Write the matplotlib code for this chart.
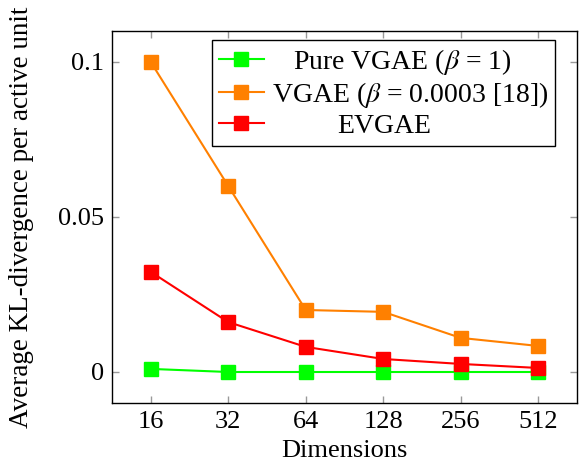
import matplotlib
matplotlib.use("Agg")
import matplotlib.pyplot as plt

dims = ["16", "32", "64", "128", "256", "512"]
pure_vgae = [0.0010, 0.0, 0.0, 0.0, 0.0, 0.0]
vgae_beta = [0.1000, 0.0600, 0.0200, 0.0194, 0.0110, 0.0084]
evgae = [0.0323, 0.0161, 0.0081, 0.0042, 0.0026, 0.0013]
yticks = [0, 0.05, 0.1]
yticklabels = ["0", "0.05", "0.1"]

plt.rcParams['font.family'] = ['Liberation Serif', 'DejaVu Serif']
plt.rcParams['mathtext.fontset'] = 'stix'
plt.rcParams['font.size'] = 19

fig = plt.figure(figsize=(5.8, 4.73), dpi=100)
ax = fig.add_axes([112/580, 1-403/473, (577-112)/580, (403-31)/473])

x = list(range(len(dims)))
kw = dict(marker='s', markersize=9.5, linewidth=1.5)
ax.plot(x, pure_vgae, color='#00ff00', label=r'Pure VGAE ($\beta$ = 1)', **kw)
ax.plot(x, vgae_beta, color='#ff8000', label=r'VGAE ($\beta$ = 0.0003 [18])', **kw)
ax.plot(x, evgae, color='#ff0000', label='EVGAE', **kw)

ax.set_xlim(-0.5, 5.5)
ax.set_ylim(-0.01, 0.11)
ax.set_xticks(x)
ax.set_xticklabels(dims)
ax.set_yticks(yticks)
ax.set_yticklabels(yticklabels)
ax.tick_params(direction='in', top=True, right=True, length=5, color='#999999', width=1, pad=6)
for s in ax.spines.values():
    s.set_color('black')
    s.set_linewidth(1)
ax.set_xlabel('Dimensions', labelpad=5)
ax.set_ylabel('Average KL-divergence per active unit', labelpad=17, fontsize=19.5)

leg = ax.legend(loc='upper right', bbox_to_anchor=(0.953, 0.976), borderaxespad=0,
                fancybox=False, edgecolor='black', framealpha=1, handlelength=1.6,
                handletextpad=0.3, labelspacing=0.12, borderpad=0.25, fontsize=20)
leg.get_frame().set_linewidth(1)

fig.canvas.draw()
renderer = fig.canvas.get_renderer()
widths = [t.get_window_extent(renderer).width for t in leg.get_texts()]
maxw = max(widths)
for t, w in zip(leg.get_texts(), widths):
    t.set_position(((maxw - w) / 2 * 72.0 / fig.dpi, 0))

fig.savefig('out.png', dpi=100)
